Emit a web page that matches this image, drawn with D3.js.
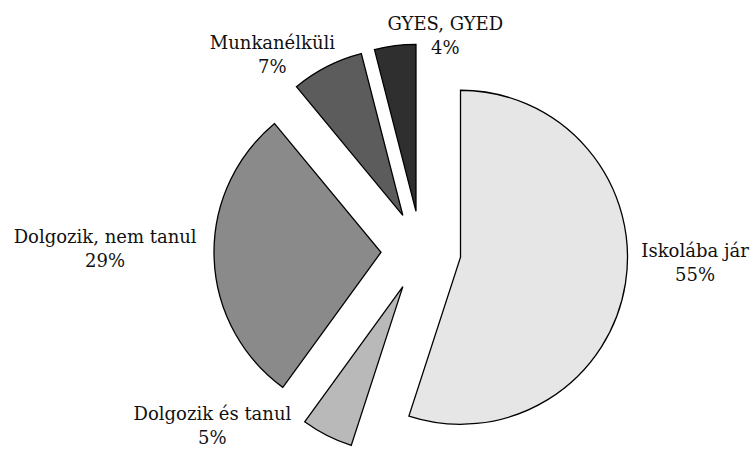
<!DOCTYPE html>
<html>
<head>
<meta charset="utf-8">
<script src="https://cdn.jsdelivr.net/npm/d3@7"></script>
<style>
  html, body { margin: 0; padding: 0; background: #ffffff; }
  svg { display: block; }
  text { font-family: "DejaVu Serif", serif; font-size: 18px; fill: #111; }
</style>
</head>
<body>
<svg id="chart" width="755" height="449"></svg>
<script>
// ---- data ----
const categories = ["Iskolába jár", "Dolgozik és tanul", "Dolgozik, nem tanul", "Munkanélküli", "GYES, GYED"];
const values = [55, 5, 29, 7, 4];
const valueLabels = ["55%", "5%", "29%", "7%", "4%"];
const colors = ["#e6e6e6", "#b9b9b9", "#8a8a8a", "#5c5c5c", "#2f2f2f"];

// ---- layout (not data) ----
const W = 755, H = 449;
const cx = 421, cy = 251;
const radius = 167;
const explode = 40;
const labelRadius = radius + explode + 30;
// fine nudges for label blocks relative to computed anchor [dx, dy]
const labelNudge = [[40, -31], [-101, -42], [-79, -15], [-41, 9], [54, 14]];

const svg = d3.select("#chart");
const g = svg.append("g").attr("transform", `translate(${cx},${cy})`);

const pie = d3.pie().sort(null).startAngle(0).endAngle(2 * Math.PI);
const arcs = pie(values);
const arc = d3.arc().innerRadius(0).outerRadius(radius);

const slices = g.selectAll("g.slice")
  .data(arcs)
  .join("g")
  .attr("class", "slice")
  .attr("transform", d => {
    const a = (d.startAngle + d.endAngle) / 2;
    return `translate(${explode * Math.sin(a)},${-explode * Math.cos(a)})`;
  });

slices.append("path")
  .attr("d", arc)
  .attr("fill", (d, i) => colors[i])
  .attr("stroke", "#000")
  .attr("stroke-width", 1.3)
  .attr("stroke-linejoin", "miter");

// labels
const labels = g.selectAll("text.lbl")
  .data(arcs)
  .join("text")
  .attr("class", "lbl")
  .attr("text-anchor", "middle")
  .attr("transform", (d, i) => {
    const a = (d.startAngle + d.endAngle) / 2;
    const x = labelRadius * Math.sin(a) + labelNudge[i][0];
    const y = -labelRadius * Math.cos(a) + labelNudge[i][1];
    return `translate(${x},${y})`;
  });

labels.append("tspan").attr("x", 0).attr("y", 0).text((d, i) => categories[i]);
labels.append("tspan").attr("x", 0).attr("y", 24).text((d, i) => valueLabels[i]);
</script>
</body>
</html>
